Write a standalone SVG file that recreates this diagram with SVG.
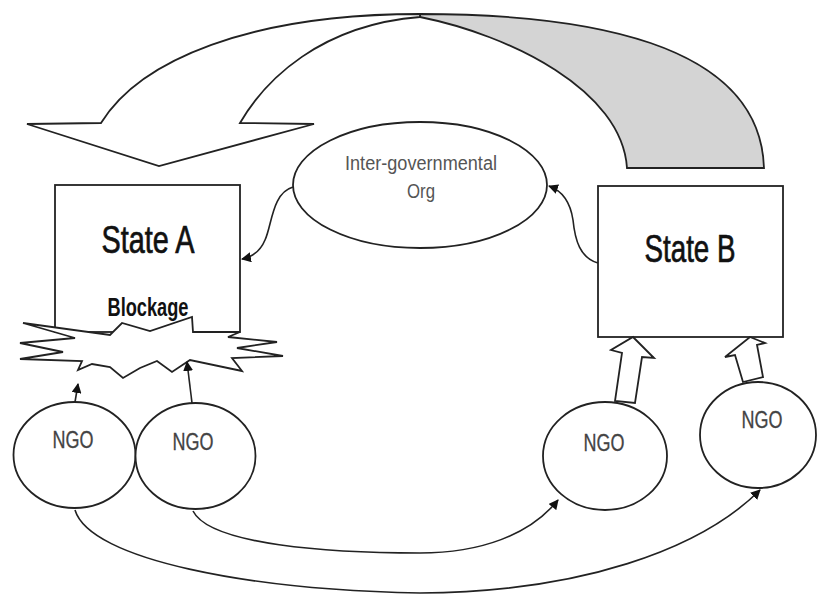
<svg xmlns="http://www.w3.org/2000/svg" width="817" height="596" viewBox="0 0 817 596">
<style>
.ln{fill:none;stroke:#222;stroke-width:1.6}
.shape{fill:#fff;stroke:#222;stroke-width:1.8}
.txt{font-family:"Liberation Sans",Arial,sans-serif;text-anchor:middle}
.big{font-size:38px;fill:#111;stroke:#111;stroke-width:0.7}
.ngo{font-size:23px;fill:#444;stroke:#444;stroke-width:0.3}
.igo{font-size:20px;fill:#555}
</style>
<defs>
<marker id="ah" viewBox="0 0 10 10" refX="9" refY="5" markerWidth="10" markerHeight="10" markerUnits="userSpaceOnUse" orient="auto">
<path d="M0,0 L10,5 L0,10 z" fill="#111"/>
</marker>
</defs>
<rect width="817" height="596" fill="#fff"/>

<g id="boomerang">
<path d="M420,14 C580,14 760,40 764,168 L627,168 C622,90 510,35 420,17 Z" fill="#d4d4d4" stroke="#222" stroke-width="1.8"/>
<path d="M101,123 L27,124 L159,166 L314,124 L240,123 C265,80 320,25 420,17 L420,14 C250,14 140,60 101,123 Z" class="shape"/>
</g>

<g id="state-a">
<rect x="55" y="185" width="185" height="147" class="shape"/>
<text x="148" y="253" class="txt big" textLength="93" lengthAdjust="spacingAndGlyphs">State A</text>
</g>

<g id="blockage">
<polygon points="23,323 110,335 122,323 150,331 192,317 193,332 240,332 228,337 277,342 237,348 283,356 232,358 242,371 190,360 172,372 157,361 140,368 123,378 110,367 92,364 78,370 82,361 20,359 63,352 20,343 75,338" class="shape"/>
<text x="148" y="316" class="txt" font-size="25" font-weight="bold" fill="#111" textLength="81" lengthAdjust="spacingAndGlyphs">Blockage</text>
</g>

<g id="igo">
<ellipse cx="420" cy="185" rx="127" ry="63" class="shape"/>
<text x="421" y="170" class="txt igo" textLength="152" lengthAdjust="spacingAndGlyphs">Inter-governmental</text>
<text x="421" y="198" class="txt igo" textLength="28" lengthAdjust="spacingAndGlyphs">Org</text>
</g>

<g id="state-b">
<rect x="598" y="186" width="185" height="151" class="shape"/>
<text x="690" y="262" class="txt big" textLength="91" lengthAdjust="spacingAndGlyphs">State B</text>
</g>

<g id="ngo1">
<ellipse cx="74.5" cy="455" rx="61" ry="53" class="shape"/>
<text x="73" y="448" class="txt ngo" textLength="41" lengthAdjust="spacingAndGlyphs">NGO</text>
</g>
<g id="ngo2">
<ellipse cx="195.5" cy="456" rx="60" ry="53" class="shape"/>
<text x="193" y="450" class="txt ngo" textLength="41" lengthAdjust="spacingAndGlyphs">NGO</text>
</g>
<g id="ngo3">
<ellipse cx="605" cy="456" rx="62" ry="54" class="shape"/>
<text x="604" y="451" class="txt ngo" textLength="41" lengthAdjust="spacingAndGlyphs">NGO</text>
</g>
<g id="ngo4">
<ellipse cx="758" cy="435" rx="58" ry="53" class="shape"/>
<text x="762" y="428" class="txt ngo" textLength="41" lengthAdjust="spacingAndGlyphs">NGO</text>
</g>

<g id="connectors">
<path d="M293,187 C272,193 272,225 265,240 C260,252 252,257 242,259" class="ln" marker-end="url(#ah)"/>
<path d="M598,263 C580,258 575,240 573,220 C570,200 560,190 549,186" class="ln" marker-end="url(#ah)"/>
<path d="M75,402 L78,384" class="ln" marker-end="url(#ah)"/>
<path d="M192,403 L187,362" class="ln" marker-end="url(#ah)"/>
<path d="M75,510 C90,560 250,590 420,593 C580,592 700,550 760,490" class="ln" marker-end="url(#ah)"/>
<path d="M193,511 C210,545 330,553 420,553 C480,553 530,535 558,500" class="ln" marker-end="url(#ah)"/>
<polygon points="633,337 654,358 642,357 635,403 615,401 622,353 611,350" class="shape"/>
<polygon points="750,337 765,343 757,345 763,377 743,382 735,355 725,357" class="shape"/>
</g>
</svg>
